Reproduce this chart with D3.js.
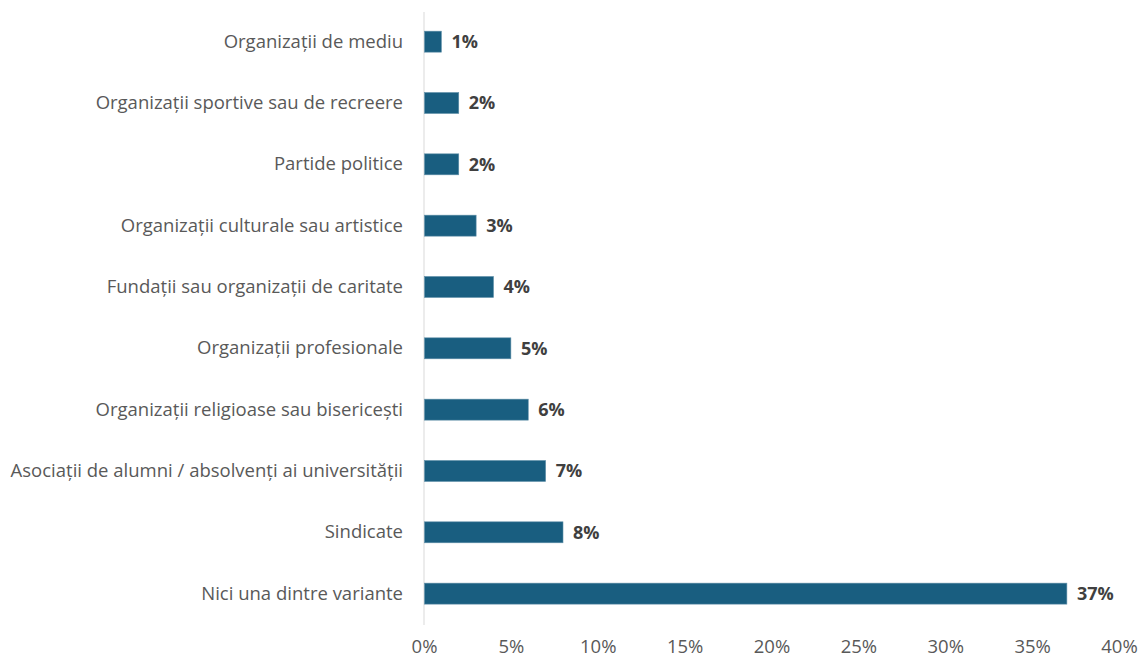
<!DOCTYPE html>
<html><head><meta charset="utf-8">
<script src="https://cdn.jsdelivr.net/npm/d3@7"></script>
<style>body{margin:0;background:#fff;} svg{display:block;}</style>
</head><body>
<svg id="c" width="1140" height="662"></svg>
<script>
const categories = ["Organizații de mediu","Organizații sportive sau de recreere","Partide politice","Organizații culturale sau artistice","Fundații sau organizații de caritate","Organizații profesionale","Organizații religioase sau bisericești","Asociații de alumni / absolvenți ai universității","Sindicate","Nici una dintre variante"];
const values = [1,2,2,3,4,5,6,7,8,37];
const tickValues = [0,5,10,15,20,25,30,35,40];

const svg = d3.select("#c");
const font = "'Open Sans', Roboto, sans-serif";
const x = d3.scaleLinear().domain([0,40]).range([424,1119]);
const y = d3.scaleBand().domain(categories).range([11,624.3]).paddingInner(0.658).paddingOuter(0.329);

svg.append("line").attr("x1",x(0)).attr("x2",x(0)).attr("y1",12).attr("y2",625)
  .attr("stroke","#d9d9d9").attr("stroke-width",1);

svg.selectAll("rect.bar").data(categories).join("rect").attr("class","bar")
  .attr("x",x(0)+0.5).attr("y",d=>y(d)).attr("height",y.bandwidth())
  .attr("width",(d,i)=>x(values[i])-x(0)-0.5)
  .attr("fill","#195e80").attr("stroke","#5f8fa8").attr("stroke-width",0.6);

svg.selectAll("text.val").data(categories).join("text").attr("class","val")
  .attr("x",(d,i)=>x(values[i])+10).attr("y",d=>y(d)+y.bandwidth()/2)
  .attr("dy","0.36em").attr("font-family",font).attr("font-size",18).attr("font-weight","bold")
  .attr("fill","#404040").text((d,i)=>values[i]+"%");

const yAxis = d3.axisLeft(y).tickSize(0).tickPadding(21);
const ga = svg.append("g").attr("transform",`translate(${x(0)},0)`).call(yAxis);
ga.select(".domain").remove();
ga.selectAll("text").attr("font-family",font).attr("font-size",18.5).attr("fill","#595959");

const xAxis = d3.axisBottom(x).tickValues(tickValues).tickSize(0).tickPadding(0).tickFormat(d=>d+"%");
const gx = svg.append("g").attr("transform","translate(0,640)").call(xAxis);
gx.select(".domain").remove();
gx.selectAll("text").attr("font-family",font).attr("font-size",18.5).attr("fill","#595959").attr("dy","0.68em");
</script>
</body></html>
